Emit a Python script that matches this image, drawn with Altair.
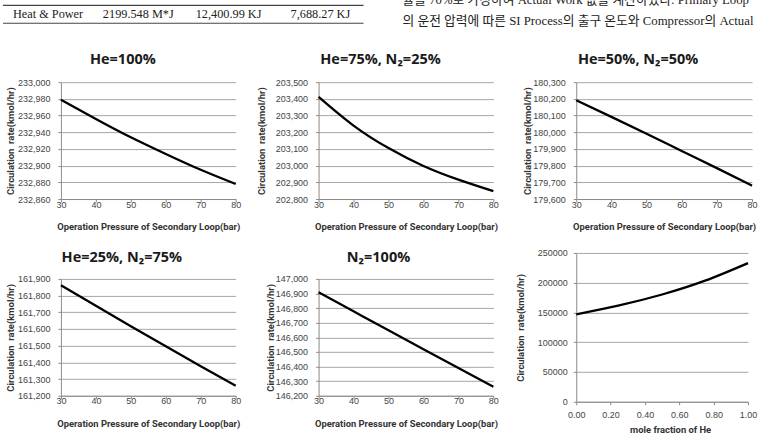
import altair as alt
import pandas as pd

# Operation pressure of the secondary loop (bar)
pressure = [30, 40, 50, 60, 70, 80]

# Circulation rate (kmol/hr) for each working-fluid composition
he100 = [232979, 232956, 232934, 232914, 232895, 232878]
he75 = [203412, 203240, 203105, 202998, 202916, 202847]
he50 = [180192, 180092, 179991, 179888, 179785, 179680]
he25 = [161862, 161739, 161617, 161496, 161377, 161260]
n2_100 = [146908, 146778, 146648, 146518, 146390, 146262]

# Circulation rate against He mole fraction (30 bar)
he_fraction = [0.0, 0.25, 0.5, 0.75, 1.0]
rate_by_fraction = [146908, 161862, 180192, 203412, 232979]

# Axis tick values
p_ticks = [30, 40, 50, 60, 70, 80]
frac_ticks = [0.0, 0.2, 0.4, 0.6, 0.8, 1.0]
y_ticks_he100 = [232860, 232880, 232900, 232920, 232940, 232960, 232980, 233000]
y_ticks_he75 = [202800, 202900, 203000, 203100, 203200, 203300, 203400, 203500]
y_ticks_he50 = [179600, 179700, 179800, 179900, 180000, 180100, 180200, 180300]
y_ticks_he25 = [161200, 161300, 161400, 161500, 161600, 161700, 161800, 161900]
y_ticks_n2 = [146200, 146300, 146400, 146500, 146600, 146700, 146800, 146900, 147000]
y_ticks_frac = [0, 50000, 100000, 150000, 200000, 250000]

# Panel titles
titles = ["He=100%", "He=75%, N₂=25%", "He=50%, N₂=50%", "He=25%, N₂=75%", "N₂=100%"]

# Running text of the surrounding page
table_cells = ["Heat & Power", "2199.548 M*J", "12,400.99 KJ", "7,688.27 KJ"]
body_lines = [
    "율을 70%로 가정하여 Actual Work 값을 계산하였다. Primary Loop의",
    "의 운전 압력에 따른 SI Process의 출구 온도와 Compressor의 Actual Work를",
]

TITLE_FONT = "Open Sans"
AXIS_TITLE_FONT = "Roboto"
LABEL_FONT = "Liberation Sans"
SERIF = "Liberation Serif, Noto Sans CJK KR"
Y_TITLE = "Circulation\u00a0 rate(kmol/hr)"
X_TITLE = "Operation Pressure of Secondary Loop(bar)"


def panel(xs, ys, xticks, yticks, title, xtitle, xfmt, yfmt, w, h,
          y_range=None, ytitle_x=-50, xlabel_pad=-2, ylabel_pad=8,
          xtitle_dx=0, title_x=62, title_y=-18):
    df = pd.DataFrame({"x": xs, "y": ys})
    yscale = dict(domain=[yticks[0], yticks[-1]], nice=False, zero=False)
    if y_range is not None:
        yscale["range"] = y_range
    line = alt.Chart(df).mark_line(
        color="black", strokeWidth=2.3, interpolate="natural"
    ).encode(
        x=alt.X(
            "x:Q",
            scale=alt.Scale(domain=[xticks[0], xticks[-1]], nice=False, zero=False),
            axis=alt.Axis(
                values=xticks, format=xfmt, title=xtitle, grid=False,
                tickSize=3, labelPadding=xlabel_pad, labelFlush=False,
                titleY=24, titleBaseline="top", titleX=w / 2 + xtitle_dx,
            ),
        ),
        y=alt.Y(
            "y:Q",
            scale=alt.Scale(**yscale),
            axis=alt.Axis(
                values=yticks, format=yfmt, title=Y_TITLE, grid=True,
                tickSize=3, labelPadding=ylabel_pad, labelFlush=False,
                titleX=ytitle_x, titleBaseline="middle", titleFontSize=9.5,
            ),
        ),
    )
    layers = [line]
    if title:
        layers.append(
            alt.Chart(pd.DataFrame({"t": [title]})).mark_text(
                align="center", baseline="alphabetic", font=TITLE_FONT,
                fontSize=14.5, fontWeight="bold", color="#1a1a1a",
            ).encode(text="t:N", x=alt.value(title_x), y=alt.value(title_y))
        )
    return layers, dict(width=w, height=h)


# Page text above the charts (a table row and two lines of body text),
# placed relative to the lower-right panel.
OX, OY = 576, 253
page_rules = alt.Chart(pd.DataFrame({"y": [5 - OY, 23 - OY]})).mark_rule(
    color="#444444", strokeWidth=1.2
).encode(x=alt.value(2 - OX), x2=alt.value(363 - OX), y=alt.Y("y:Q", scale=None))

page_table = alt.Chart(
    pd.DataFrame({"t": table_cells, "x": [12 - OX, 102 - OX, 195 - OX, 290 - OX]})
).mark_text(
    align="left", baseline="alphabetic", font=SERIF, fontSize=12.3, color="#222222"
).encode(text="t:N", x=alt.X("x:Q", scale=None), y=alt.value(17.5 - OY))

page_line1 = alt.Chart(pd.DataFrame({"t": [body_lines[0]]})).mark_text(
    align="left", baseline="top", font=SERIF, fontSize=12.8, color="#222222",
    limit=356, ellipsis=" ",
).encode(text="t:N", x=alt.value(402 - OX), y=alt.value(-6 - OY))

page_line2 = alt.Chart(pd.DataFrame({"t": [body_lines[1]]})).mark_text(
    align="left", baseline="alphabetic", font=SERIF, fontSize=12.8, color="#222222",
    limit=356, ellipsis=" ",
).encode(text="t:N", x=alt.value(402 - OX), y=alt.value(25 - OY))

l1, p1 = panel(pressure, he100, p_ticks, y_ticks_he100, titles[0],
               X_TITLE, "d", ",d", 175, 117, ytitle_x=-50)
l2, p2 = panel(pressure, he75, p_ticks, y_ticks_he75, titles[1],
               X_TITLE, "d", ",d", 175, 117, ytitle_x=-57)
l3, p3 = panel(pressure, he50, p_ticks, y_ticks_he50, titles[2],
               X_TITLE, "d", ",d", 176, 117, ytitle_x=-49)
l4, p4 = panel(pressure, he25, p_ticks, y_ticks_he25, titles[3],
               X_TITLE, "d", ",d", 175, 143, y_range=[143, 26], ytitle_x=-50,
               title_x=61, title_y=9)
l5, p5 = panel(pressure, n2_100, p_ticks, y_ticks_n2, titles[4],
               X_TITLE, "d", ",d", 175, 143, y_range=[143, 26], ytitle_x=-48,
               title_x=60, title_y=9)
l6, p6 = panel(he_fraction, rate_by_fraction, frac_ticks, y_ticks_frac, None,
               "mole fraction of He", ".2f", "d", 172, 149,
               ytitle_x=-56, xlabel_pad=6, ylabel_pad=6, xtitle_dx=8)

c1 = alt.layer(*l1).properties(**p1)
c2 = alt.layer(*l2).properties(**p2)
c3 = alt.layer(*l3).properties(**p3)
c4 = alt.layer(*l4).properties(**p4)
c5 = alt.layer(*l5).properties(**p5)
c6 = alt.layer(*l6, page_rules, page_table, page_line1, page_line2).properties(**p6)

chart = alt.concat(
    c1, c2, c3, c4, c5, c6,
    columns=3, spacing={"row": 54, "column": 83}, bounds="flush", align="each",
).properties(
    padding={"left": 2, "top": -6, "right": 0, "bottom": 0},
    background="white",
).configure_view(
    stroke=None
).configure_axis(
    labelFont=LABEL_FONT,
    labelFontSize=9,
    labelColor="#444444",
    domainColor="#8c8c8c",
    tickColor="#8c8c8c",
    gridColor="#a6a6a6",
    titleFont=AXIS_TITLE_FONT,
    titleFontSize=9.4,
    titleFontWeight="bold",
    titleColor="#333333",
)

chart.save("out.html", embed_options={"renderer": "svg", "actions": False})
